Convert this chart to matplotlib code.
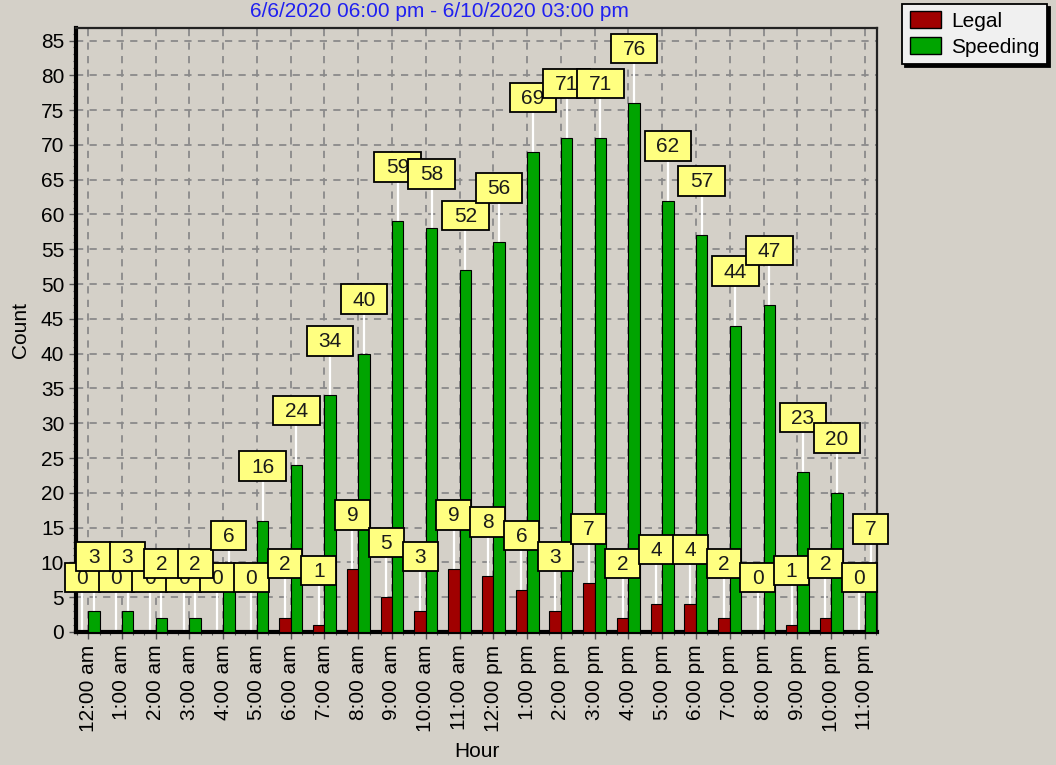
import numpy as np
import matplotlib
matplotlib.use("Agg")
import matplotlib.pyplot as plt
from matplotlib.path import Path
from matplotlib.patches import Patch
from matplotlib.ticker import MultipleLocator, FixedLocator

plt.rcParams["font.family"] = ["Liberation Sans", "DejaVu Sans"]
plt.rcParams["font.size"] = 15

hours = ["12:00 am", "1:00 am", "2:00 am", "3:00 am", "4:00 am", "5:00 am",
         "6:00 am", "7:00 am", "8:00 am", "9:00 am", "10:00 am", "11:00 am",
         "12:00 pm", "1:00 pm", "2:00 pm", "3:00 pm", "4:00 pm", "5:00 pm",
         "6:00 pm", "7:00 pm", "8:00 pm", "9:00 pm", "10:00 pm", "11:00 pm"]
legal = [0, 0, 0, 0, 0, 0, 2, 1, 9, 5, 3, 9, 8, 6, 3, 7, 2, 4, 4, 2, 0, 1, 2, 0]
speeding = [3, 3, 2, 2, 6, 16, 24, 34, 40, 59, 58, 52, 56, 69, 71, 71, 76, 62,
            57, 44, 47, 23, 20, 7]
title = "6/6/2020 06:00 pm - 6/10/2020 03:00 pm"

BG = "#d4d0c8"
RED = "#a00000"
GREEN = "#00a400"
BOX = "#ffff80"


def label_box(x0, y0, width, height, mutation_size):
    # fixed-height box, horizontal padding only
    padx = 0.56 * mutation_size
    h = 1.42 * mutation_size
    cy = y0 + 0.55 * height
    return Path([(x0 - padx, cy - h / 2), (x0 + width + padx, cy - h / 2),
                 (x0 + width + padx, cy + h / 2), (x0 - padx, cy + h / 2),
                 (x0 - padx, cy - h / 2)], closed=True)


fig = plt.figure(figsize=(10.56, 7.65), dpi=100, facecolor=BG)
ax = fig.add_axes([0.072, 0.1739, 0.7585, 0.7895], facecolor=BG)

x = np.arange(len(hours))
w = 0.34
ax.bar(x - w / 2, legal, w, color=RED, edgecolor="black", linewidth=0.8, zorder=3)
ax.bar(x + w / 2, speeding, w, color=GREEN, edgecolor="black", linewidth=0.8, zorder=3)

off = 7.7
for series, shift, z in ((legal, -w / 2, 5), (speeding, w / 2, 6)):
    for xi, v in zip(x, series):
        ax.plot([xi + shift, xi + shift], [v, v + off], color="white", lw=1.6,
                zorder=2.5, solid_capstyle="butt")
        ax.text(xi + shift, v + off, str(v), ha="center", va="center",
                color="#1a1a1a", zorder=z, clip_on=False,
                bbox=dict(boxstyle=label_box, facecolor=BOX, edgecolor="black",
                          linewidth=1.3))

ax.set_xlim(-0.355, 23.36)
ax.set_ylim(0, 86.8)
ax.set_xticks(x)
ax.set_xticklabels(hours, rotation=90)
ax.xaxis.set_minor_locator(FixedLocator(np.concatenate([x - w, x + w])))
ax.yaxis.set_major_locator(MultipleLocator(5))
ax.yaxis.set_minor_locator(MultipleLocator(1))
ax.tick_params(axis="both", which="major", length=5, width=1, color="#555555")
ax.tick_params(axis="both", which="minor", length=2.5, width=0.8, color="#555555")
ax.tick_params(axis="x", pad=4)

ax.grid(True, which="major", color="#8a8a8a", linestyle=(0, (4, 3.5)), linewidth=1.3)
ax.set_axisbelow(True)

ax.spines["left"].set_linewidth(3)
ax.spines["bottom"].set_linewidth(3)
ax.spines["left"].set_color("black")
ax.spines["bottom"].set_color("black")
ax.spines["top"].set_linewidth(1.6)
ax.spines["right"].set_linewidth(1.6)
ax.spines["top"].set_color("#222222")
ax.spines["right"].set_color("#222222")

ax.set_ylabel("Count")
ax.yaxis.set_label_coords(-0.058, 0.5)
ax.set_xlabel("Hour")
ax.xaxis.set_label_coords(0.5, -0.182)

fig.text(0.416, 1 - 17 / 765, title, color="#2020f0", ha="center", va="baseline")

handles = [Patch(facecolor=RED, edgecolor="black", label="Legal"),
           Patch(facecolor=GREEN, edgecolor="black", label="Speeding")]
leg = fig.legend(handles=handles, loc="upper right",
                 bbox_to_anchor=(1047 / 1056, 1 - 4 / 765),
                 fancybox=False, shadow={"color": "black", "alpha": 1},
                 framealpha=1, facecolor="#f0f0f0", edgecolor="black",
                 borderpad=0.35, labelspacing=0.3, handlelength=1.5,
                 handleheight=0.85, handletextpad=0.5, borderaxespad=0)
leg.get_frame().set_linewidth(1.3)

fig.savefig("out.png", dpi=100, facecolor=BG)
